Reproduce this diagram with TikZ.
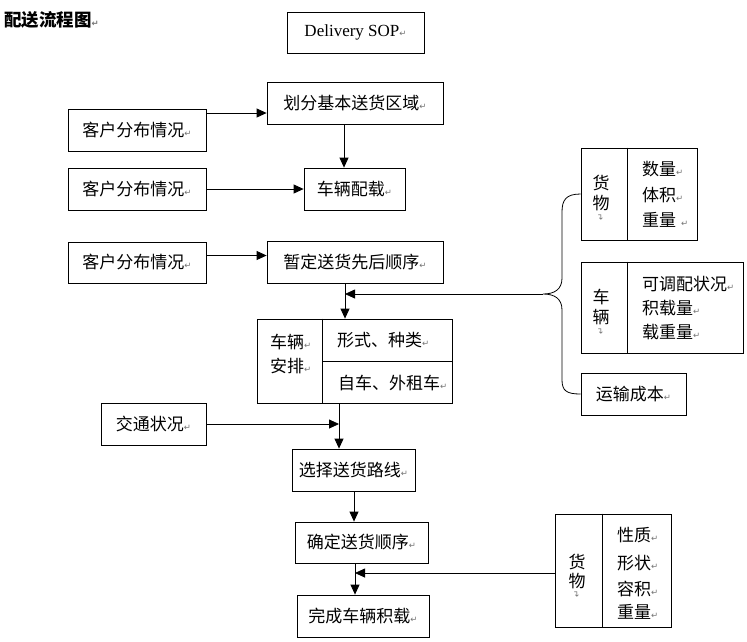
\documentclass[tikz,border=0pt]{standalone}
\usepackage{fontspec}
\setmainfont{Liberation Serif}
\newfontfamily\cjk{Noto Sans CJK SC}
\newfontfamily\dejavu{DejaVu Sans}
\usetikzlibrary{arrows.meta}
\newcommand\pmk{{\dejavu\fontsize{8.5}{8.5}\selectfont\color{black!55}↵}}
\newcommand\vmk{{\dejavu\fontsize{8.5}{8.5}\selectfont\color{black!55}\rotatebox{90}{↵}}}
\begin{document}
\begin{tikzpicture}[x=1pt,y=-1pt,
  box/.style={draw, line width=0.8pt, inner sep=0pt, minimum height=42pt,
    font=\cjk\fontsize{17}{20}\selectfont},
  txt/.style={inner sep=0pt, font=\cjk\fontsize{17}{20}\selectfont},
  ln/.style={line width=0.8pt},
  arr/.style={line width=0.8pt, -{Triangle[length=10pt,width=9pt]}}]
\useasboundingbox (0,0) rectangle (747,641);

% title
\node[txt, anchor=west, font=\cjk\bfseries\fontsize{17.5}{20}\selectfont] (title) at (4,20) {配送流程图\pmk};

% main column
\node[box, minimum width=137pt, minimum height=41pt] (sop) at (355.5,32.5) {\rmfamily\fontsize{17}{20}\selectfont Delivery SOP\pmk};
\node[box, minimum width=176pt] (qf) at (355,103) {划分基本送货区域\pmk};
\node[box, minimum width=138pt] (k1) at (137,130) {客户分布情况\pmk};
\node[box, minimum width=101pt] (cl) at (354.5,189) {车辆配载\pmk};
\node[box, minimum width=138pt] (k2) at (137,189) {客户分布情况\pmk};
\node[box, minimum width=138pt, minimum height=41pt] (k3) at (137,262.5) {客户分布情况\pmk};
\node[box, minimum width=176pt] (zd) at (355,262) {暂定送货先后顺序\pmk};
\node[box, minimum width=195pt, minimum height=84pt] (cap) at (354.5,361) {};
\node[box, minimum width=105pt] (jt) at (153.5,424) {交通状况\pmk};
\node[box, minimum width=123pt] (xz) at (353.5,470) {选择送货路线\pmk};
\node[box, minimum width=133pt, minimum height=41pt] (qd) at (361.5,542.5) {确定送货顺序\pmk};
\node[box, minimum width=132pt] (wc) at (363,616) {完成车辆积载\pmk};

% vehicle arrangement box internals
\draw[ln] ([xshift=66pt]cap.north west) -- ([xshift=66pt]cap.south west);
\draw[ln] ([xshift=66pt]cap.west) -- (cap.east);
\node[txt, anchor=west] (ca1) at (270,342) {车辆\pmk};
\node[txt, anchor=west] (ca2) at (270,366) {安排\pmk};
\node[txt, anchor=west] (ca3) at (337,340) {形式、种类\pmk};
\node[txt, anchor=west] (ca4) at (338,383) {自车、外租车\pmk};

% right side boxes
\node[box, minimum width=116pt, minimum height=92pt] (g1) at (639,194) {};
\draw[ln] ([xshift=47pt]g1.north west) -- ([xshift=47pt]g1.south west);
\node[txt] (g1a) at (601,183) {货};
\node[txt] (g1b) at (601,203) {物};
\node[inner sep=0pt] (g1c) at (601,217) {\vmk};
\node[txt, anchor=west] (g1d) at (642,169) {数量\pmk};
\node[txt, anchor=west] (g1e) at (642,195) {体积\pmk};
\node[txt, anchor=west] (g1f) at (642,220) {重量\hspace{5pt}\pmk};

\node[box, minimum width=162pt, minimum height=91pt] (v1) at (662,307.5) {};
\draw[ln] ([xshift=47pt]v1.north west) -- ([xshift=47pt]v1.south west);
\node[txt] (v1a) at (601,297) {车};
\node[txt] (v1b) at (601,317) {辆};
\node[inner sep=0pt] (v1c) at (601,331) {\vmk};
\node[txt, anchor=west] (v1d) at (642,284) {可调配状况\pmk};
\node[txt, anchor=west] (v1e) at (642,308) {积载量\pmk};
\node[txt, anchor=west] (v1f) at (642,332) {载重量\pmk};

\node[box, minimum width=105pt] (ys) at (633.5,394) {运输成本\pmk};

\node[box, minimum width=116pt, minimum height=113pt] (gb) at (613,570.5) {};
\draw[ln] ([xshift=48pt]gb.north west) -- ([xshift=48pt]gb.south west);
\node[txt] (gba) at (577,562) {货};
\node[txt] (gbb) at (577,581) {物};
\node[inner sep=0pt] (gbc) at (577,594) {\vmk};
\node[txt, anchor=west] (gbd) at (617,535) {性质\pmk};
\node[txt, anchor=west] (gbe) at (617,563) {形状\pmk};
\node[txt, anchor=west] (gbf) at (617,589) {容积\pmk};
\node[txt, anchor=west] (gbg) at (617,612) {重量\pmk};

% brace
\coordinate (tip) at (543,294);
\draw[ln] (g1.west) .. controls (566,194) and (562,200) .. (562,212) -- (562,278)
  .. controls (562,289) and (555,294) .. (tip)
  .. controls (555,294) and (562,299) .. (562,310) -- (562,380)
  .. controls (562,391) and (567,394) .. (ys.west);

% connectors
\draw[arr] ([yshift=17pt]k1.east) coordinate (a1) -- (a1 -| qf.west);
\draw[arr] ([xshift=-11pt]qf.south) coordinate (a2) -- (a2 |- cl.north);
\draw[arr] (k2.east) -- (cl.west);
\draw[arr] ([yshift=7pt]k3.east) coordinate (a3) -- (a3 -| zd.west);
\draw[arr] ([xshift=-10pt]zd.south) coordinate (a4) -- (a4 |- cap.north);
\draw[arr] (tip) -- (tip -| a4);
\draw[arr] ([xshift=-15.5pt]cap.south) coordinate (a5) -- (a5 |- xz.north);
\draw[arr] (jt.east) -- (jt.east -| a5);
\draw[arr] ([xshift=0.5pt]xz.south) coordinate (a6) -- (a6 |- qd.north);
\draw[arr] ([xshift=-6.5pt]qd.south) coordinate (a7) -- (a7 |- wc.north);
\draw[arr] ([yshift=-2.5pt]gb.west) coordinate (a8) -- (a8 -| a7);
\end{tikzpicture}
\end{document}
